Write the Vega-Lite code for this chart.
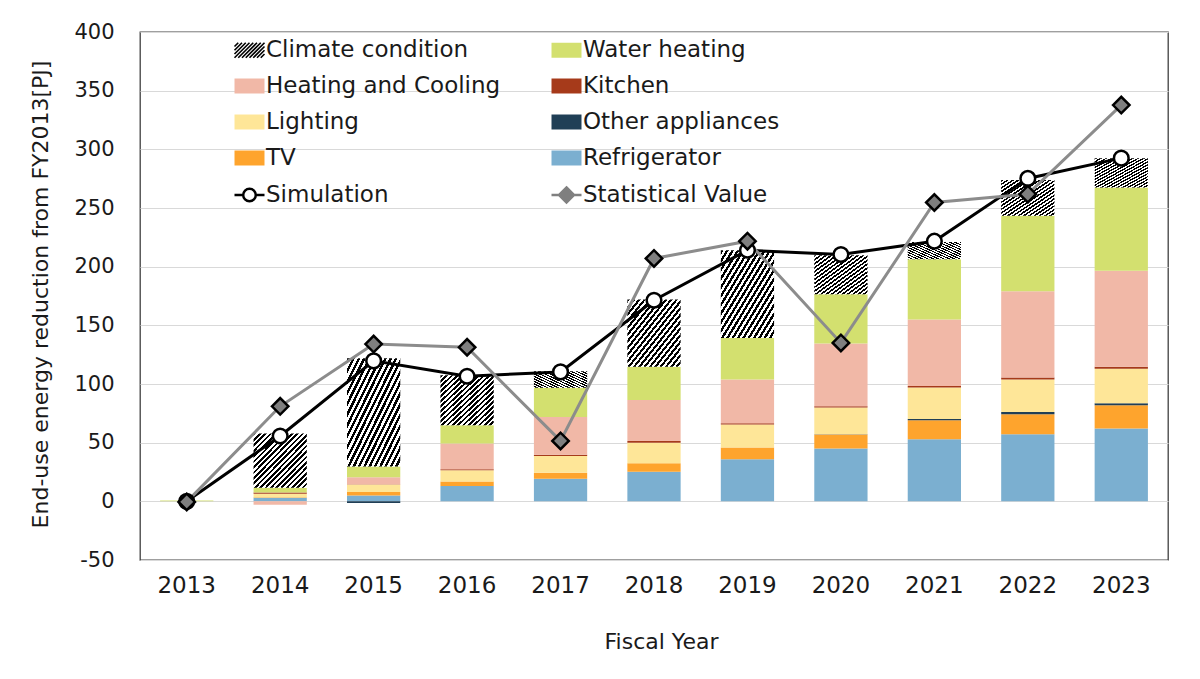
{
  "$schema": "https://vega.github.io/schema/vega-lite/v6.json",
  "width": 1028,
  "height": 528,
  "autosize": "none",
  "padding": {"left": 140, "top": 32, "right": 32, "bottom": 119},
  "background": "white",
  "config": {
    "font": "DejaVu Sans",
    "view": {"stroke": "#404040", "strokeWidth": 1.3},
    "axis": {"labelColor": "#1a1a1a", "titleColor": "#1a1a1a", "titleFontWeight": "normal"}
  },
  "datasets": {
    "bars": [
      {"year": "2013", "category": "Refrigerator", "value": 0, "order": 1},
      {"year": "2013", "category": "TV", "value": 0, "order": 2},
      {"year": "2013", "category": "Other appliances", "value": 0, "order": 3},
      {"year": "2013", "category": "Lighting", "value": 0, "order": 4},
      {"year": "2013", "category": "Kitchen", "value": 0, "order": 5},
      {"year": "2013", "category": "Heating and Cooling", "value": 0, "order": 6},
      {"year": "2013", "category": "Water heating", "value": 0.8, "order": 7},
      {"year": "2013", "category": "Climate condition", "value": 0, "order": 8},
      {"year": "2014", "category": "Refrigerator", "value": 3, "order": 1},
      {"year": "2014", "category": "TV", "value": 0.5, "order": 2},
      {"year": "2014", "category": "Other appliances", "value": 0, "order": 3},
      {"year": "2014", "category": "Lighting", "value": 3, "order": 4},
      {"year": "2014", "category": "Kitchen", "value": 1, "order": 5},
      {"year": "2014", "category": "Heating and Cooling", "value": -3, "order": 6},
      {"year": "2014", "category": "Water heating", "value": 4, "order": 7},
      {"year": "2014", "category": "Climate condition", "value": 46.3, "order": 8},
      {"year": "2015", "category": "Refrigerator", "value": 5, "order": 1},
      {"year": "2015", "category": "TV", "value": 3, "order": 2},
      {"year": "2015", "category": "Other appliances", "value": -1.5, "order": 3},
      {"year": "2015", "category": "Lighting", "value": 6.3, "order": 4},
      {"year": "2015", "category": "Kitchen", "value": 0.3, "order": 5},
      {"year": "2015", "category": "Heating and Cooling", "value": 6, "order": 6},
      {"year": "2015", "category": "Water heating", "value": 9, "order": 7},
      {"year": "2015", "category": "Climate condition", "value": 92.4, "order": 8},
      {"year": "2016", "category": "Refrigerator", "value": 13.1, "order": 1},
      {"year": "2016", "category": "TV", "value": 3.9, "order": 2},
      {"year": "2016", "category": "Other appliances", "value": 0, "order": 3},
      {"year": "2016", "category": "Lighting", "value": 9.4, "order": 4},
      {"year": "2016", "category": "Kitchen", "value": 1, "order": 5},
      {"year": "2016", "category": "Heating and Cooling", "value": 21.8, "order": 6},
      {"year": "2016", "category": "Water heating", "value": 15.6, "order": 7},
      {"year": "2016", "category": "Climate condition", "value": 42.7, "order": 8},
      {"year": "2017", "category": "Refrigerator", "value": 19.3, "order": 1},
      {"year": "2017", "category": "TV", "value": 5.1, "order": 2},
      {"year": "2017", "category": "Other appliances", "value": 0, "order": 3},
      {"year": "2017", "category": "Lighting", "value": 14.3, "order": 4},
      {"year": "2017", "category": "Kitchen", "value": 1, "order": 5},
      {"year": "2017", "category": "Heating and Cooling", "value": 32.2, "order": 6},
      {"year": "2017", "category": "Water heating", "value": 24.8, "order": 7},
      {"year": "2017", "category": "Climate condition", "value": 14.2, "order": 8},
      {"year": "2018", "category": "Refrigerator", "value": 25.3, "order": 1},
      {"year": "2018", "category": "TV", "value": 7.1, "order": 2},
      {"year": "2018", "category": "Other appliances", "value": 0, "order": 3},
      {"year": "2018", "category": "Lighting", "value": 17.6, "order": 4},
      {"year": "2018", "category": "Kitchen", "value": 1.5, "order": 5},
      {"year": "2018", "category": "Heating and Cooling", "value": 34.9, "order": 6},
      {"year": "2018", "category": "Water heating", "value": 28.2, "order": 7},
      {"year": "2018", "category": "Climate condition", "value": 57.4, "order": 8},
      {"year": "2019", "category": "Refrigerator", "value": 35.8, "order": 1},
      {"year": "2019", "category": "TV", "value": 10, "order": 2},
      {"year": "2019", "category": "Other appliances", "value": 0, "order": 3},
      {"year": "2019", "category": "Lighting", "value": 19.6, "order": 4},
      {"year": "2019", "category": "Kitchen", "value": 1.2, "order": 5},
      {"year": "2019", "category": "Heating and Cooling", "value": 37.2, "order": 6},
      {"year": "2019", "category": "Water heating", "value": 35.5, "order": 7},
      {"year": "2019", "category": "Climate condition", "value": 74.7, "order": 8},
      {"year": "2020", "category": "Refrigerator", "value": 45, "order": 1},
      {"year": "2020", "category": "TV", "value": 11.9, "order": 2},
      {"year": "2020", "category": "Other appliances", "value": 0.3, "order": 3},
      {"year": "2020", "category": "Lighting", "value": 22.7, "order": 4},
      {"year": "2020", "category": "Kitchen", "value": 1.2, "order": 5},
      {"year": "2020", "category": "Heating and Cooling", "value": 53.4, "order": 6},
      {"year": "2020", "category": "Water heating", "value": 42, "order": 7},
      {"year": "2020", "category": "Climate condition", "value": 33.3, "order": 8},
      {"year": "2021", "category": "Refrigerator", "value": 52.9, "order": 1},
      {"year": "2021", "category": "TV", "value": 16.2, "order": 2},
      {"year": "2021", "category": "Other appliances", "value": 1, "order": 3},
      {"year": "2021", "category": "Lighting", "value": 26.9, "order": 4},
      {"year": "2021", "category": "Kitchen", "value": 1.2, "order": 5},
      {"year": "2021", "category": "Heating and Cooling", "value": 56.8, "order": 6},
      {"year": "2021", "category": "Water heating", "value": 51.4, "order": 7},
      {"year": "2021", "category": "Climate condition", "value": 14.6, "order": 8},
      {"year": "2022", "category": "Refrigerator", "value": 57.1, "order": 1},
      {"year": "2022", "category": "TV", "value": 17.1, "order": 2},
      {"year": "2022", "category": "Other appliances", "value": 2, "order": 3},
      {"year": "2022", "category": "Lighting", "value": 27.7, "order": 4},
      {"year": "2022", "category": "Kitchen", "value": 1.7, "order": 5},
      {"year": "2022", "category": "Heating and Cooling", "value": 73.5, "order": 6},
      {"year": "2022", "category": "Water heating", "value": 64.3, "order": 7},
      {"year": "2022", "category": "Climate condition", "value": 30.5, "order": 8},
      {"year": "2023", "category": "Refrigerator", "value": 62, "order": 1},
      {"year": "2023", "category": "TV", "value": 19.9, "order": 2},
      {"year": "2023", "category": "Other appliances", "value": 1.7, "order": 3},
      {"year": "2023", "category": "Lighting", "value": 29.3, "order": 4},
      {"year": "2023", "category": "Kitchen", "value": 1.7, "order": 5},
      {"year": "2023", "category": "Heating and Cooling", "value": 81.9, "order": 6},
      {"year": "2023", "category": "Water heating", "value": 71, "order": 7},
      {"year": "2023", "category": "Climate condition", "value": 25, "order": 8}
    ],
    "lines": [
      {"year": "2013", "series": "Simulation", "value": 0},
      {"year": "2014", "series": "Simulation", "value": 55.7},
      {"year": "2015", "series": "Simulation", "value": 119.7},
      {"year": "2016", "series": "Simulation", "value": 106.6},
      {"year": "2017", "series": "Simulation", "value": 110.3},
      {"year": "2018", "series": "Simulation", "value": 171.4},
      {"year": "2019", "series": "Simulation", "value": 214},
      {"year": "2020", "series": "Simulation", "value": 210.4},
      {"year": "2021", "series": "Simulation", "value": 221.7},
      {"year": "2022", "series": "Simulation", "value": 275.2},
      {"year": "2023", "series": "Simulation", "value": 292.5},
      {"year": "2013", "series": "Statistical Value", "value": -0.5},
      {"year": "2014", "series": "Statistical Value", "value": 81},
      {"year": "2015", "series": "Statistical Value", "value": 134},
      {"year": "2016", "series": "Statistical Value", "value": 131.3},
      {"year": "2017", "series": "Statistical Value", "value": 51.5},
      {"year": "2018", "series": "Statistical Value", "value": 207},
      {"year": "2019", "series": "Statistical Value", "value": 221.7},
      {"year": "2020", "series": "Statistical Value", "value": 135},
      {"year": "2021", "series": "Statistical Value", "value": 254.7},
      {"year": "2022", "series": "Statistical Value", "value": 261.8},
      {"year": "2023", "series": "Statistical Value", "value": 337.7}
    ]
  },
  "encoding": {
    "x": {
      "field": "year",
      "type": "nominal",
      "scale": {"paddingInner": 0.43, "paddingOuter": 0.215},
      "axis": {
        "title": "Fiscal Year",
        "labelAngle": 0,
        "labelFontSize": 23,
        "labelPadding": 14,
        "ticks": false,
        "domain": false,
        "titleFontSize": 22,
        "titleBaseline": "middle",
        "titleX": 521,
        "titleY": 81
      }
    }
  },
  "layer": [
    {
      "data": {"name": "bars"},
      "mark": {"type": "bar", "strokeWidth": 0},
      "encoding": {
        "y": {
          "field": "value",
          "type": "quantitative",
          "stack": "zero",
          "scale": {"domain": [-50, 400], "nice": false},
          "axis": {
            "title": "End-use energy reduction from FY2013[PJ]",
            "values": [-50, 0, 50, 100, 150, 200, 250, 300, 350, 400],
            "labelExpr": "'' + datum.value",
            "labelFontSize": 21,
            "labelPadding": 26,
            "ticks": false,
            "domain": false,
            "gridColor": "#d9d9d9",
            "gridWidth": 1.2,
            "titleFontSize": 22,
            "titleAngle": -90,
            "titleBaseline": "middle",
            "titleAlign": "center",
            "titleX": -100,
            "titleY": 262
          }
        },
        "order": {"field": "order", "type": "quantitative"},
        "fill": {
          "condition": {
            "test": "datum.category === 'Climate condition'",
            "value": {"gradient": "linear", "x1": 0, "y1": 0, "x2": 1, "y2": 1, "stops": [
              {"offset": 0, "color": "#000"}, {"offset": 0.025, "color": "#000"}, {"offset": 0.025, "color": "#fff"}, {"offset": 0.05, "color": "#fff"},
              {"offset": 0.05, "color": "#000"}, {"offset": 0.075, "color": "#000"}, {"offset": 0.075, "color": "#fff"}, {"offset": 0.1, "color": "#fff"},
              {"offset": 0.1, "color": "#000"}, {"offset": 0.125, "color": "#000"}, {"offset": 0.125, "color": "#fff"}, {"offset": 0.15, "color": "#fff"},
              {"offset": 0.15, "color": "#000"}, {"offset": 0.175, "color": "#000"}, {"offset": 0.175, "color": "#fff"}, {"offset": 0.2, "color": "#fff"},
              {"offset": 0.2, "color": "#000"}, {"offset": 0.225, "color": "#000"}, {"offset": 0.225, "color": "#fff"}, {"offset": 0.25, "color": "#fff"},
              {"offset": 0.25, "color": "#000"}, {"offset": 0.275, "color": "#000"}, {"offset": 0.275, "color": "#fff"}, {"offset": 0.3, "color": "#fff"},
              {"offset": 0.3, "color": "#000"}, {"offset": 0.325, "color": "#000"}, {"offset": 0.325, "color": "#fff"}, {"offset": 0.35, "color": "#fff"},
              {"offset": 0.35, "color": "#000"}, {"offset": 0.375, "color": "#000"}, {"offset": 0.375, "color": "#fff"}, {"offset": 0.4, "color": "#fff"},
              {"offset": 0.4, "color": "#000"}, {"offset": 0.425, "color": "#000"}, {"offset": 0.425, "color": "#fff"}, {"offset": 0.45, "color": "#fff"},
              {"offset": 0.45, "color": "#000"}, {"offset": 0.475, "color": "#000"}, {"offset": 0.475, "color": "#fff"}, {"offset": 0.5, "color": "#fff"},
              {"offset": 0.5, "color": "#000"}, {"offset": 0.525, "color": "#000"}, {"offset": 0.525, "color": "#fff"}, {"offset": 0.55, "color": "#fff"},
              {"offset": 0.55, "color": "#000"}, {"offset": 0.575, "color": "#000"}, {"offset": 0.575, "color": "#fff"}, {"offset": 0.6, "color": "#fff"},
              {"offset": 0.6, "color": "#000"}, {"offset": 0.625, "color": "#000"}, {"offset": 0.625, "color": "#fff"}, {"offset": 0.65, "color": "#fff"},
              {"offset": 0.65, "color": "#000"}, {"offset": 0.675, "color": "#000"}, {"offset": 0.675, "color": "#fff"}, {"offset": 0.7, "color": "#fff"},
              {"offset": 0.7, "color": "#000"}, {"offset": 0.725, "color": "#000"}, {"offset": 0.725, "color": "#fff"}, {"offset": 0.75, "color": "#fff"},
              {"offset": 0.75, "color": "#000"}, {"offset": 0.775, "color": "#000"}, {"offset": 0.775, "color": "#fff"}, {"offset": 0.8, "color": "#fff"},
              {"offset": 0.8, "color": "#000"}, {"offset": 0.825, "color": "#000"}, {"offset": 0.825, "color": "#fff"}, {"offset": 0.85, "color": "#fff"},
              {"offset": 0.85, "color": "#000"}, {"offset": 0.875, "color": "#000"}, {"offset": 0.875, "color": "#fff"}, {"offset": 0.9, "color": "#fff"},
              {"offset": 0.9, "color": "#000"}, {"offset": 0.925, "color": "#000"}, {"offset": 0.925, "color": "#fff"}, {"offset": 0.95, "color": "#fff"},
              {"offset": 0.95, "color": "#000"}, {"offset": 0.975, "color": "#000"}, {"offset": 0.975, "color": "#fff"}, {"offset": 1, "color": "#fff"}
            ]}
          },
          "field": "category",
          "type": "nominal",
          "scale": {
            "domain": ["Climate condition", "Heating and Cooling", "Lighting", "TV", "Simulation", "Water heating", "Kitchen", "Other appliances", "Refrigerator", "Statistical Value"],
            "range": ["#808080", "#f1b8a7", "#fee698", "#fea42d", "#ffffff", "#d3e06f", "#a63a1a", "#203f56", "#7bafd0", "#7f7f7f"]
          },
          "legend": {
            "title": null,
            "orient": "none",
            "legendX": 98,
            "legendY": 6.5,
            "columns": 2,
            "columnPadding": 45,
            "rowPadding": 12,
            "padding": 0,
            "labelFontSize": 23,
            "labelColor": "#1a1a1a",
            "labelOffset": 5,
            "labelLimit": 400,
            "symbolSize": 900,
            "symbolOpacity": 1,
            "encode": {
              "symbols": {
                "update": {
                  "shape": {"signal": "datum.value === 'Simulation' ? 'M-1,0H-0.42M0.42,0H1M0.42,0A0.42,0.42,0,1,1,-0.42,0A0.42,0.42,0,1,1,0.42,0' : datum.value === 'Statistical Value' ? 'M-1,0H-0.5M0.5,0H1M0,-0.5L0.5,0L0,0.5L-0.5,0Z' : datum.value === 'Climate condition' ? 'M-1,-0.25L-0.75,-0.5M-1,0L-0.5,-0.5M-1,0.25L-0.25,-0.5M-1,0.5L0,-0.5M-0.75,0.5L0.25,-0.5M-0.5,0.5L0.5,-0.5M-0.25,0.5L0.75,-0.5M0,0.5L1,-0.5M0.25,0.5L1,-0.25M0.5,0.5L1,0M0.75,0.5L1,0.25' : 'M-1,-0.5H1V0.5H-1Z'"},
                  "stroke": {"signal": "datum.value === 'Simulation' || datum.value === 'Climate condition' ? '#000000' : datum.value === 'Statistical Value' ? '#808080' : 'transparent'"},
                  "strokeWidth": {"signal": "datum.value === 'Simulation' || datum.value === 'Statistical Value' ? 2.5 : datum.value === 'Climate condition' ? 1.6 : 0"}
                }
              }
            }
          }
        }
      }
    },
    {
      "mark": {"type": "rule", "color": "#a0a0a0", "strokeWidth": 1.5},
      "encoding": {"y": {"datum": 0}}
    },
    {
      "data": {"name": "lines"},
      "mark": {"type": "line", "strokeWidth": 3},
      "encoding": {
        "y": {"field": "value", "type": "quantitative"},
        "stroke": {
          "field": "series",
          "type": "nominal",
          "scale": {"domain": ["Simulation", "Statistical Value"], "range": ["#000000", "#8c8c8c"]},
          "legend": null
        }
      }
    },
    {
      "data": {"name": "lines"},
      "mark": {"type": "point", "filled": true, "opacity": 1, "stroke": "#000000", "strokeWidth": 2.5},
      "encoding": {
        "y": {"field": "value", "type": "quantitative"},
        "fill": {"field": "series", "type": "nominal"},
        "size": {
          "field": "series",
          "type": "nominal",
          "scale": {"domain": ["Simulation", "Statistical Value"], "range": [215, 270]},
          "legend": null
        },
        "shape": {
          "field": "series",
          "type": "nominal",
          "scale": {"domain": ["Simulation", "Statistical Value"], "range": ["circle", "diamond"]},
          "legend": null
        }
      }
    }
  ]
}
